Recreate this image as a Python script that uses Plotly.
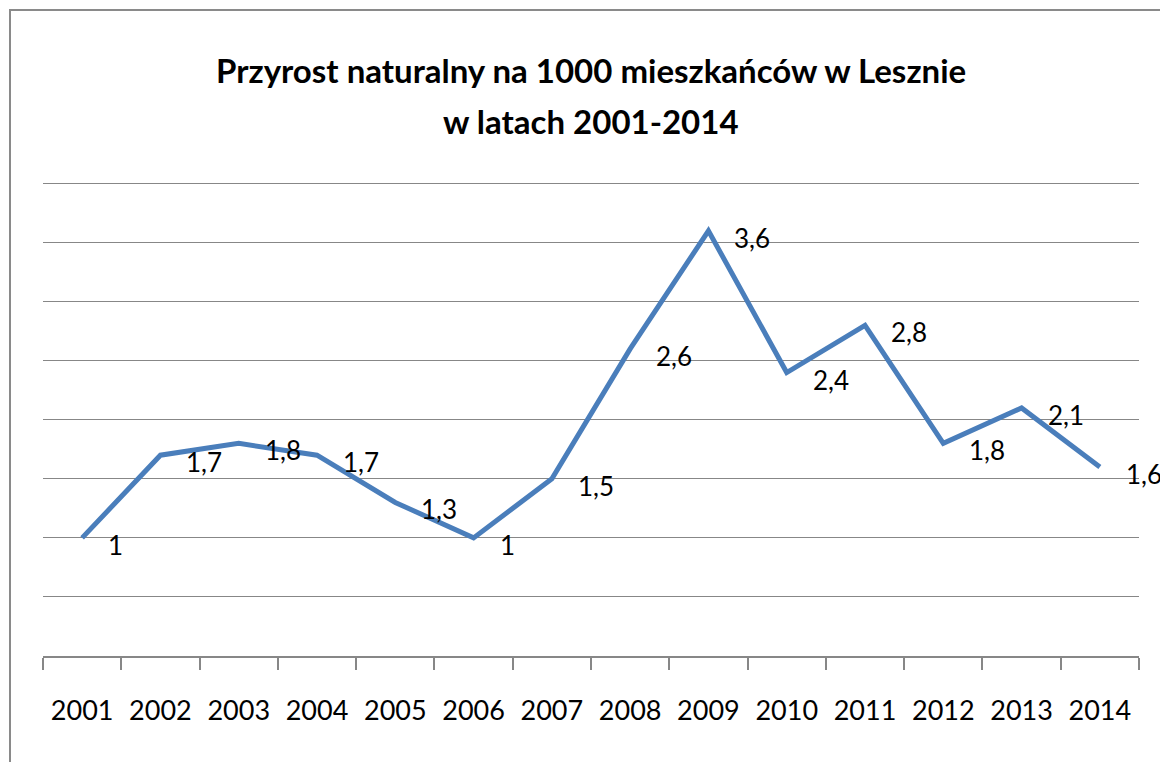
import plotly.graph_objects as go

years = ["2001", "2002", "2003", "2004", "2005", "2006", "2007",
         "2008", "2009", "2010", "2011", "2012", "2013", "2014"]
values = [1.0, 1.7, 1.8, 1.7, 1.3, 1.0, 1.5, 2.6, 3.6, 2.4, 2.8, 1.8, 2.1, 1.6]
labels = ["1", "1,7", "1,8", "1,7", "1,3", "1", "1,5",
          "2,6", "3,6", "2,4", "2,8", "1,8", "2,1", "1,6"]
title_lines = ["Przyrost naturalny na 1000 mieszkańców w Lesznie", "w latach 2001-2014"]

FONT = "Lato, Liberation Sans, Arial, sans-serif"
GRID = "#878787"

W, H = 1160, 762
ml, mr, mt, mb = 43, W - 1139, 180, H - 656
YMAX = 4.03

fig = go.Figure()
fig.add_trace(go.Scatter(
    x=years, y=values, mode="lines",
    line=dict(color="#4A7EBB", width=5),
    hoverinfo="skip", showlegend=False,
))

annotations = []
for i, (v, lab) in enumerate(zip(values, labels)):
    annotations.append(dict(
        x=i, y=v, xref="x", yref="y", text=lab, showarrow=False,
        xanchor="left", yanchor="middle", xshift=24, yshift=-7,
        font=dict(family=FONT, size=26, color="#000000"),
    ))

pw = W - ml - mr
ph = H - mt - mb
def px_x(p):
    return (p - ml) / pw
def px_y(p):
    return (H - mb - p) / ph

title_y_px = [70, 121]
for line, ypx in zip(title_lines, title_y_px):
    annotations.append(dict(
        x=0.5, y=px_y(ypx), xref="paper", yref="paper", text=line,
        showarrow=False, xanchor="center", yanchor="middle",
        font=dict(family=FONT, size=33, color="#000000", weight="bold"),
    ))

shapes = [dict(
    type="rect", xref="paper", yref="paper",
    x0=px_x(10), x1=px_x(1175), y0=px_y(780), y1=px_y(10),
    line=dict(color="#8a8a8a", width=2), fillcolor="rgba(0,0,0,0)", layer="above",
)]

fig.update_layout(
    width=W, height=H,
    margin=dict(l=ml, r=mr, t=mt, b=mb, pad=0),
    paper_bgcolor="white", plot_bgcolor="white",
    xaxis=dict(
        type="category", categoryorder="array", categoryarray=years,
        range=[-0.5, len(years) - 0.5],
        tickson="boundaries", ticks="outside", ticklen=12,
        tickcolor=GRID, tickwidth=1.5, showline=True, linecolor=GRID, linewidth=1.5,
        showgrid=False, tickfont=dict(family=FONT, size=27, color="#000000"),
        ticklabelstandoff=30, tickangle=0, fixedrange=True,
    ),
    yaxis=dict(
        range=[0, YMAX], dtick=0.5, tick0=0, showticklabels=False, ticks="",
        showgrid=True, gridcolor=GRID, gridwidth=1.2, zeroline=False,
        showline=False, fixedrange=True,
    ),
    annotations=annotations,
    shapes=shapes,
)

fig.write_html(
    "out.html",
    config={"displayModeBar": False},
    post_script="document.body.style.margin='0';document.body.style.overflow='hidden';",
)
